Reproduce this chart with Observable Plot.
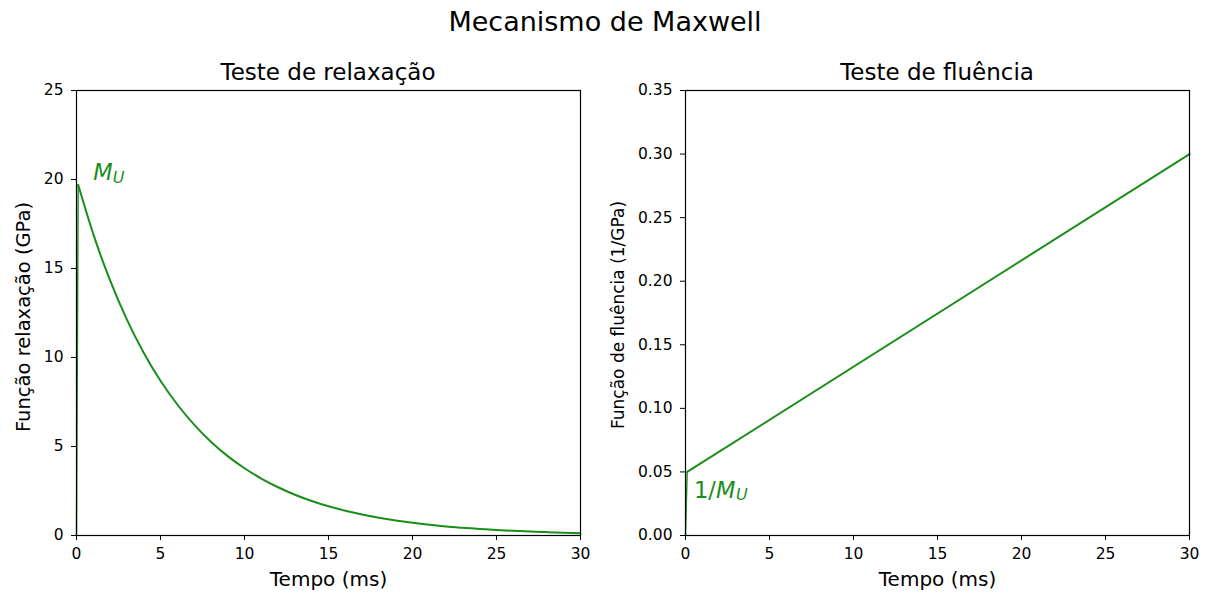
<!DOCTYPE html>
<html>
<head>
<meta charset="utf-8">
<script src="https://cdn.jsdelivr.net/npm/d3@7"></script>
<script src="https://cdn.jsdelivr.net/npm/@observablehq/plot@0.6"></script>
<style>
  html, body { margin: 0; padding: 0; background: #fff; }
  #fig { position: relative; width: 1207px; height: 597px; font-family: "DejaVu Sans", sans-serif; color: #000; overflow: hidden; }
  #fig .title { position: absolute; text-align: center; line-height: 1; white-space: nowrap; }
  #fig svg { position: absolute; top: 0; }
</style>
</head>
<body>
<div id="fig">
  <div class="title" style="left:305px;width:600px;top:8px;font-size:27px">Mecanismo de Maxwell</div>
  <div class="title" style="left:128px;width:400px;top:61px;font-size:23px">Teste de relaxação</div>
  <div class="title" style="left:737px;width:400px;top:61px;font-size:23px">Teste de fluência</div>
</div>
<script>
// Relaxation test: modulus (GPa) against time (ms); step applied at t = 0
const relaxTime = [0, 0.1, 1, 2, 3, 4, 5, 6, 7, 8, 9, 10, 11, 12, 13, 14, 15,
  16, 17, 18, 19, 20, 21, 22, 23, 24, 25, 26, 27, 28, 29, 30];
const relaxModulus = [0, 19.7, 16.93, 14.33, 12.13, 10.27, 8.69, 7.36, 6.23, 5.27,
  4.46, 3.78, 3.20, 2.71, 2.29, 1.94, 1.64, 1.39, 1.18, 1.00, 0.84, 0.71, 0.60,
  0.51, 0.43, 0.37, 0.31, 0.26, 0.22, 0.19, 0.16, 0.13];

// Creep test: compliance (1/GPa) against time (ms)
const creepTime = [0, 0.1, 30];
const creepCompliance = [0, 0.05, 0.30];

// Tick values
const timeTicks = [0, 5, 10, 15, 20, 25, 30];
const relaxTicks = [0, 5, 10, 15, 20, 25];
const creepTicks = [0, 0.05, 0.10, 0.15, 0.20, 0.25, 0.30, 0.35];

const relax = relaxTime.map((t, i) => ({t, v: relaxModulus[i]}));
const creep = creepTime.map((t, i) => ({t, v: creepCompliance[i]}));

const GREEN = "#1a8e1a";
const FONT = "DejaVu Sans";
const TICK_FS = 15.5;

const baseStyle = {
  fontFamily: FONT,
  fontSize: TICK_FS + "px",
  color: "#000",
  background: "transparent",
  overflow: "visible"
};

const left = Plot.plot({
  width: 603, height: 597,
  marginLeft: 76, marginRight: 23, marginTop: 90, marginBottom: 62,
  style: baseStyle,
  x: {domain: [0, 30]},
  y: {domain: [0, 25]},
  marks: [
    Plot.axisX({ticks: timeTicks, tickSize: 5, tickPadding: 7, label: null, fontSize: TICK_FS}),
    Plot.axisY({ticks: relaxTicks, tickSize: 5, tickPadding: 8, label: null, fontSize: TICK_FS}),
    // loading step at t = 0 (mostly hidden under the spine), then the exponential decay
    Plot.line(relax.slice(0, 2), {x: "t", y: "v", stroke: GREEN, strokeWidth: 1.4}),
    Plot.line(relax.slice(1), {x: "t", y: "v", stroke: GREEN, strokeWidth: 2, curve: "monotone-x"}),
    Plot.frame({stroke: "#000", strokeWidth: 1.2}),
    Plot.text(["Tempo (ms)"], {frameAnchor: "bottom", dy: 50, fontSize: 20}),
    Plot.text(["Função relaxação (GPa)"], {frameAnchor: "left", textAnchor: "middle", rotate: -90, dx: -53, dy: 4, fontSize: 19.5}),
    Plot.text(["M"], {x: [1], y: [20], textAnchor: "start", lineAnchor: "middle", dy: -7, fontSize: 22.5, fontStyle: "italic", fill: GREEN}),
    Plot.text(["U"], {x: [1], y: [20], textAnchor: "start", lineAnchor: "middle", dx: 19.5, dy: -2, fontSize: 16, fontStyle: "italic", fill: GREEN})
  ]
});
left.style.left = "0px";

const right = Plot.plot({
  width: 604, height: 597,
  marginLeft: 82, marginRight: 18, marginTop: 90, marginBottom: 62,
  style: baseStyle,
  x: {domain: [0, 30]},
  y: {domain: [0, 0.35]},
  marks: [
    Plot.axisX({ticks: timeTicks, tickSize: 5, tickPadding: 7, label: null, fontSize: TICK_FS}),
    Plot.axisY({ticks: creepTicks, tickFormat: ".2f", tickSize: 5, tickPadding: 8, label: null, fontSize: TICK_FS}),
    // instantaneous jump at t = 0, then linear creep
    Plot.line(creep.slice(0, 2), {x: "t", y: "v", stroke: GREEN, strokeWidth: 1.4}),
    Plot.line(creep.slice(1), {x: "t", y: "v", stroke: GREEN, strokeWidth: 2}),
    Plot.frame({stroke: "#000", strokeWidth: 1.2}),
    Plot.text(["Tempo (ms)"], {frameAnchor: "bottom", dy: 50, fontSize: 20}),
    Plot.text(["Função de fluência (1/GPa)"], {frameAnchor: "left", textAnchor: "middle", rotate: -90, dx: -67, dy: 2, fontSize: 17}),
    Plot.text(["1/"], {x: [0.5], y: [0.03], textAnchor: "start", lineAnchor: "middle", dy: -7, fontSize: 22.5, fill: GREEN}),
    Plot.text(["M"], {x: [0.5], y: [0.03], textAnchor: "start", lineAnchor: "middle", dx: 22, dy: -7, fontSize: 22.5, fontStyle: "italic", fill: GREEN}),
    Plot.text(["U"], {x: [0.5], y: [0.03], textAnchor: "start", lineAnchor: "middle", dx: 42, dy: -2, fontSize: 16, fontStyle: "italic", fill: GREEN})
  ]
});
right.style.left = "603px";

const fig = document.getElementById("fig");
fig.appendChild(left);
fig.appendChild(right);
</script>
</body>
</html>
